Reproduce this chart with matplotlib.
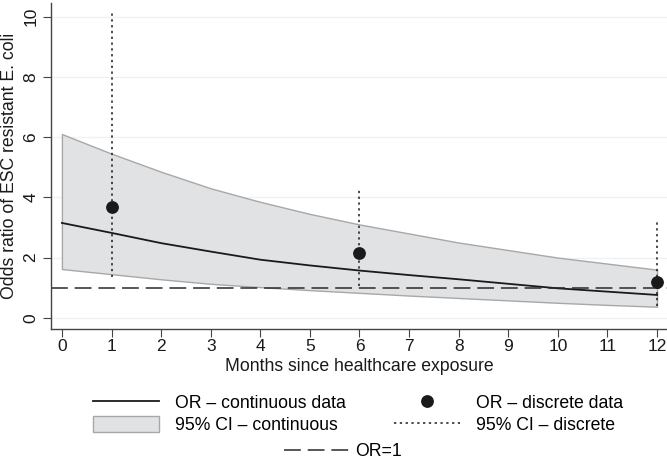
import numpy as np
import matplotlib.pyplot as plt
from matplotlib.lines import Line2D
from matplotlib.patches import Patch

plt.rcParams['font.family'] = ['Liberation Sans', 'DejaVu Sans']

# Données
months = [0, 1, 2, 3, 4, 5, 6, 7, 8, 9, 10, 11, 12]
or_cont = [3.15, 2.82, 2.48, 2.2, 1.93, 1.74, 1.57, 1.42, 1.28, 1.13, 0.98, 0.87, 0.76]
ci_upper = [6.1, 5.45, 4.85, 4.3, 3.85, 3.45, 3.1, 2.8, 2.5, 2.25, 2.0, 1.8, 1.6]
ci_lower = [1.62, 1.45, 1.28, 1.13, 1.02, 0.92, 0.83, 0.74, 0.66, 0.58, 0.5, 0.43, 0.37]

disc_months = [1, 6, 12]
or_disc = [3.69, 2.15, 1.2]
disc_low = [1.37, 1.05, 0.4]
disc_high = [10.17, 4.25, 3.26]

dash_ref = (0, (11, 4.5))
dot_ci = (0, (1.5, 2.3))
fs = 12.7

fig = plt.figure(figsize=(6.67, 4.62), dpi=100)
ax = fig.add_axes([51 / 667, 1 - 329 / 462, 616 / 667, 326 / 462])

ax.fill_between(months, ci_lower, ci_upper, facecolor='#e1e2e4',
                edgecolor='#a8a8a8', lw=1.0)
ax.plot(months, or_cont, color='#1a1a1a', lw=1.3)
ax.axhline(1, color='#2a2a2a', lw=1.1, ls=dash_ref)
ax.vlines(disc_months, disc_low, disc_high, color='#1a1a1a', lw=1.1,
          linestyles=[dot_ci])
ax.plot(disc_months, or_disc, 'o', color='#1a1a1a', ms=8.2)

ax.set_xlim(-0.22, 12.2)
ax.set_ylim(-0.37, 10.45)
ax.set_xticks(months)
ax.set_yticks([0, 2, 4, 6, 8, 10])
ax.set_yticklabels(['0', '2', '4', '6', '8', '10'], rotation=90, va='center')
for y in [0, 2, 4, 6, 8, 10]:
    ax.axhline(y, color='#f1f2f3', lw=1.0, zorder=0)

for s in ['top', 'right']:
    ax.spines[s].set_visible(False)
for s in ['left', 'bottom']:
    ax.spines[s].set_color('#444444')
    ax.spines[s].set_linewidth(1.0)
ax.tick_params(colors='#444444', labelcolor='#1a1a1a', labelsize=12.5, length=5.5)
ax.tick_params(axis='x', pad=1.5)
ax.tick_params(axis='y', pad=3.5)
ax.set_xlabel('Months since healthcare exposure', fontsize=fs, color='#1a1a1a', labelpad=3)
ax.yaxis.set_label_coords(-33 / 616, 0.5)
ax.set_ylabel('Odds ratio of ESC resistant E. coli', fontsize=fs, color='#1a1a1a')

handles = [
    Line2D([], [], color='#1a1a1a', lw=1.3),
    Patch(facecolor='#e1e2e4', edgecolor='#a8a8a8'),
    Line2D([], [], color='#1a1a1a', marker='o', ls='none', ms=8.2),
    Line2D([], [], color='#1a1a1a', lw=1.1, ls=dot_ci),
]
labels = ['OR \u2013 continuous data', '95% CI \u2013 continuous',
          'OR \u2013 discrete data', '95% CI \u2013 discrete']
fig.legend(handles, labels, ncol=2, loc='center', bbox_to_anchor=(358 / 667, 1 - 414 / 462),
           frameon=False, fontsize=fs, handlelength=3.75, handleheight=1.0,
           handletextpad=0.9, columnspacing=2.7, labelspacing=0.2)
fig.legend([Line2D([], [], color='#2a2a2a', lw=1.1, ls=dash_ref)], ['OR=1'],
           loc='center', bbox_to_anchor=(343 / 667, 1 - 452 / 462), frameon=False,
           fontsize=fs, handlelength=3.7, handletextpad=0.35)

fig.savefig('out.png', dpi=100)
